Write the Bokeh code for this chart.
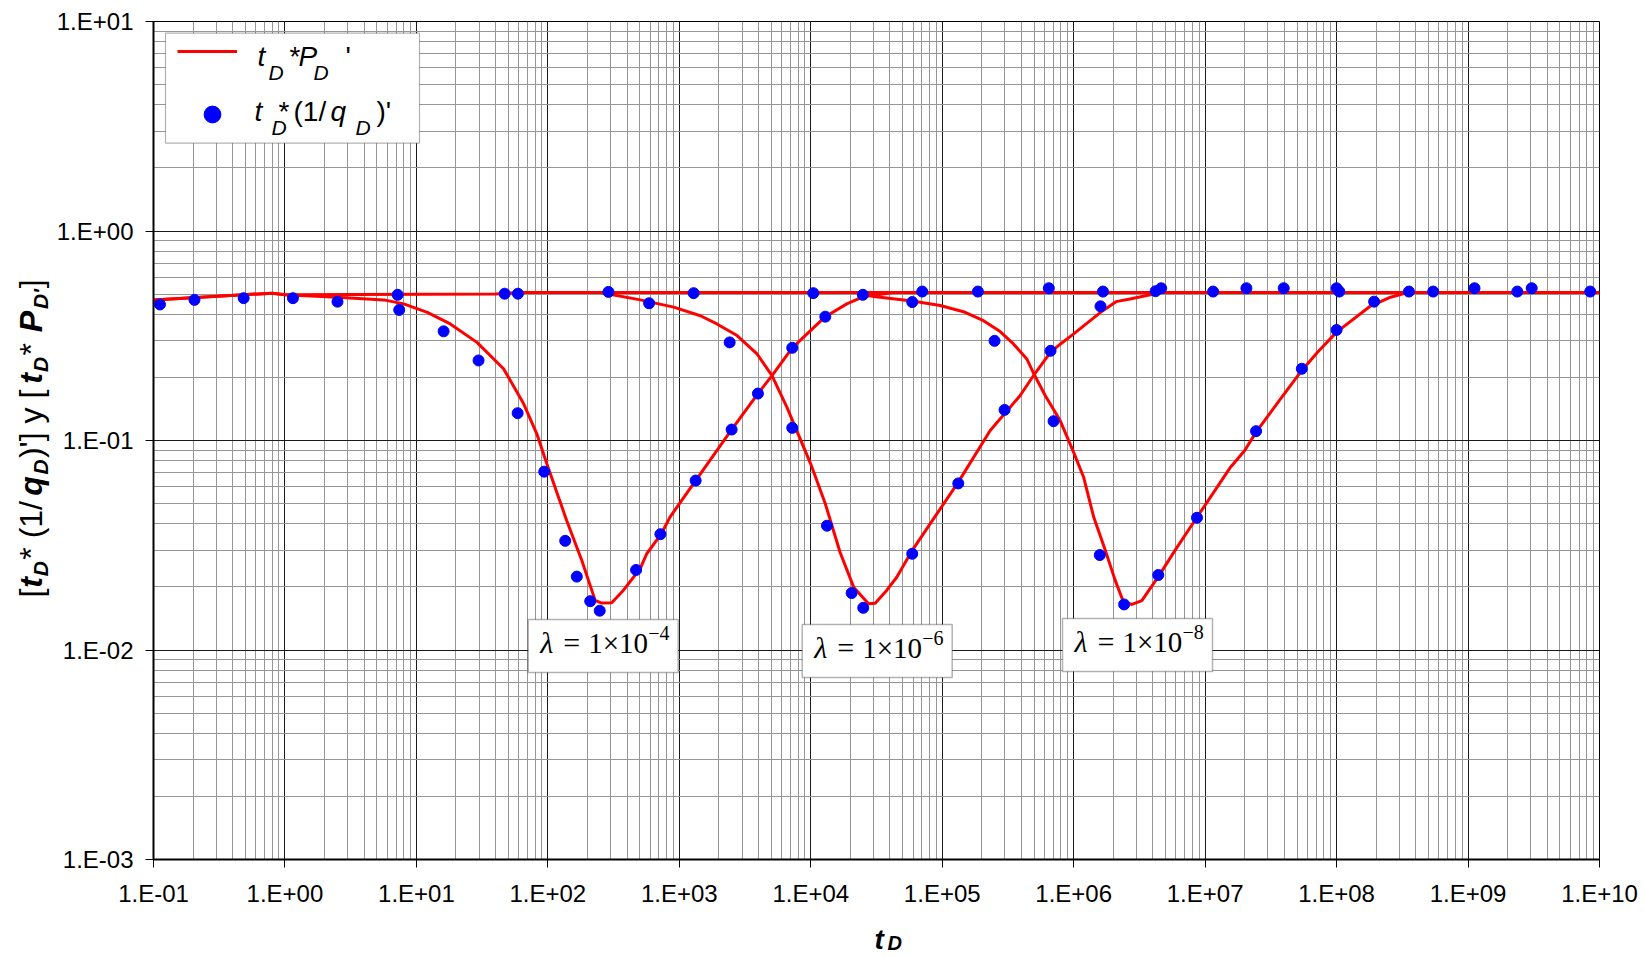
import math
from bokeh.plotting import figure
from bokeh.layouts import column, row
from bokeh.models import (FixedTicker, CustomJSTickFormatter, Label, BoxAnnotation,
                          Legend, LegendItem, Range1d)
from bokeh.embed import file_html
from bokeh.resources import INLINE

# ---------------- data ----------------
# homogeneous (flat) t_D*P_D'
flat_t = [0.1, 0.8, 1.0, 40, 60, 1e10]
flat_p = [0.469, 0.505, 0.496, 0.500, 0.509, 0.509]

# lambda = 1e-4
lam4_t = [0.1, 0.8, 1.0, 2.5, 5.65, 8.0, 12.1, 18.1, 28.9, 46, 65.3, 82.4, 98.2, 139, 181,
          229, 257, 306, 376, 505, 565, 727, 849, 1331, 2500, 3963, 5070, 7230, 12900,
          18800, 24900, 42700, 1e5]
lam4_p = [0.469, 0.505, 0.496, 0.483, 0.469, 0.449, 0.409, 0.360, 0.294, 0.220, 0.150, 0.1076,
          0.0774, 0.0415, 0.0268, 0.01725, 0.01675, 0.0168, 0.0193, 0.0245, 0.0288, 0.0357,
          0.0431, 0.0644, 0.1128, 0.1675, 0.204, 0.277, 0.390, 0.449, 0.485, 0.509, 0.509]

# lambda = 1e-6
lam6_t = [250, 505, 906, 1445, 1932, 2750, 3900, 5070, 6590, 9980, 12900, 16700, 21200,
          27500, 30900, 37900, 45200, 59150, 81100, 132500, 231700, 391700, 501000, 667000,
          794000, 1.0e6, 1.6e6, 2.1e6, 2.68e6, 4.63e6]
lam6_p = [0.509, 0.469, 0.433, 0.394, 0.360, 0.317, 0.259, 0.204, 0.144, 0.0774, 0.0499,
          0.0293, 0.01995, 0.01663, 0.0167, 0.0193, 0.0223, 0.0299, 0.0401, 0.0633, 0.1116,
          0.164, 0.2065, 0.264, 0.289, 0.323, 0.409, 0.460, 0.474, 0.509]

# lambda = 1e-8
lam8_t = [22400, 30060, 59150, 96600, 145000, 206000, 276000, 348000, 440000, 501000, 607000,
          789000, 998000, 1.19e6, 1.42e6, 1.74e6, 2.07e6, 2.39e6, 2.77e6, 3.30e6, 4.47e6,
          5.9e6, 8.67e6, 1.56e7, 2.0e7, 2.44e7, 3.66e7, 5.44e7, 7.16e7, 1.0e8, 1.78e8,
          2.57e8, 3.48e8, 1e10]
lam8_p = [0.509, 0.487, 0.463, 0.441, 0.412, 0.373, 0.331, 0.289, 0.245, 0.2065, 0.164,
          0.1245, 0.088, 0.0668, 0.0431, 0.0299, 0.0215, 0.01694, 0.0165, 0.0172, 0.0227,
          0.0299, 0.0430, 0.0746, 0.0896, 0.1096, 0.155, 0.216, 0.264, 0.329, 0.435,
          0.483, 0.509, 0.509]

# t_D*(1/q_D)' points
pts_t = [0.112, 0.205, 0.485, 1.15, 2.51, 7.2, 7.4, 16.1, 29.7, 46.9, 59.2, 58.9, 93.8,
         135.5, 166, 210, 248, 289, 589, 469, 718, 1331, 2500, 3963, 7230, 12900, 24900,
         1285, 2415, 10450, 7230, 13280, 20460, 25070, 59150, 59150, 70470, 132500, 186800,
         250000, 298000, 647000, 667000, 703000, 1.58e6, 1.6e6, 1.67e6, 2.42e6, 4.2e6,
         4.4e6, 4.63e6, 8.67e6, 1.15e7, 2.06e7, 2.44e7, 3.96e7, 5.44e7, 1.0e8, 1.0e8,
         1.05e8, 1.93e8, 3.55e8, 5.43e8, 1.12e9, 2.37e9, 3.05e9, 8.5e9]
pts_q = [0.446, 0.469, 0.478, 0.478, 0.460, 0.496, 0.420, 0.332, 0.241, 0.502, 0.502, 0.135,
         0.0710, 0.0332, 0.0224, 0.0171, 0.0154, 0.512, 0.452, 0.0241, 0.0357, 0.0644,
         0.1128, 0.1675, 0.277, 0.390, 0.496, 0.505, 0.294, 0.505, 0.1149, 0.0392, 0.0187,
         0.0159, 0.0288, 0.458, 0.514, 0.0624, 0.514, 0.299, 0.140, 0.533, 0.268, 0.1236,
         0.0284, 0.437, 0.514, 0.0165, 0.516, 0.0228, 0.533, 0.0428, 0.514, 0.533, 0.1108,
         0.533, 0.220, 0.337, 0.533, 0.514, 0.460, 0.514, 0.514, 0.533, 0.514, 0.533, 0.514]

x_ticks = [1e-1, 1e0, 1e1, 1e2, 1e3, 1e4, 1e5, 1e6, 1e7, 1e8, 1e9, 1e10]
x_tick_labels = ["1.E-01", "1.E+00", "1.E+01", "1.E+02", "1.E+03", "1.E+04", "1.E+05",
                 "1.E+06", "1.E+07", "1.E+08", "1.E+09", "1.E+10"]
y_ticks = [1e-3, 1e-2, 1e-1, 1e0, 1e1]
y_tick_labels = ["1.E-03", "1.E-02", "1.E-01", "1.E+00", "1.E+01"]
lambda_exps = ["\u22124", "\u22126", "\u22128"]

# ---------------- layout geometry (canvas pixels) ----------------
W, H = 1644, 956
YL_W = 52              # left strip holding the y title
MAIN_H = 910           # main figure height; bottom strip holds the x title
FL, FR, FT, FB = 153, 1599, 21, 859   # frame edges in canvas pixels
KB = 0.38              # empirical baseline correction (fraction of font size)

p = figure(width=W - YL_W, height=MAIN_H, x_axis_type="log", y_axis_type="log",
           x_range=(0.1, 1e10), y_range=(1e-3, 10), title=None,
           min_border_left=FL - YL_W, min_border_right=W - FR, min_border_top=FT,
           min_border_bottom=MAIN_H - FB, output_backend="svg", toolbar_location=None)
p.background_fill_color = "white"
p.border_fill_color = "white"
p.outline_line_color = "black"
p.outline_line_width = 1

x_minor = [m * 10.0 ** k for k in range(-1, 10) for m in range(2, 10)]
y_minor = [m * 10.0 ** k for k in range(-3, 1) for m in range(2, 10)]
p.xaxis.ticker = FixedTicker(ticks=x_ticks, minor_ticks=x_minor)
p.yaxis.ticker = FixedTicker(ticks=y_ticks, minor_ticks=y_minor)

fmt_code = """
let best = 0, bd = 1e99;
for (let i = 0; i < vals.length; i++) {
  const d = Math.abs(Math.log10(vals[i]) - Math.log10(tick));
  if (d < bd) { bd = d; best = i; }
}
return labs[best];
"""
p.xaxis.formatter = CustomJSTickFormatter(args=dict(vals=x_ticks, labs=x_tick_labels), code=fmt_code)
p.yaxis.formatter = CustomJSTickFormatter(args=dict(vals=y_ticks, labs=y_tick_labels), code=fmt_code)

for ax in (p.xaxis, p.yaxis):
    ax.major_label_text_font = "Liberation Sans"
    ax.major_label_text_font_size = "24px"
    ax.major_label_text_color = "black"
    ax.axis_line_color = "black"
    ax.axis_line_width = 2
    ax.major_tick_line_color = "black"
    ax.major_tick_out = 8
    ax.major_tick_in = 0
    ax.minor_tick_out = 0
    ax.minor_tick_in = 0
p.xaxis.major_label_standoff = 12
p.yaxis.major_label_standoff = 12

for g in (p.xgrid, p.ygrid):
    g.grid_line_color = "#1a1a1a"
    g.grid_line_width = 1
    g.minor_grid_line_color = "#969696"
    g.minor_grid_line_width = 1

# ---------------- data marks ----------------
r_lines = p.multi_line(xs=[flat_t, lam4_t, lam6_t, lam8_t],
                       ys=[flat_p, lam4_p, lam6_p, lam8_p],
                       line_color="#FF0000", line_width=3)
r_pts = p.scatter(x=pts_t, y=pts_q, size=11, fill_color="#0000FF", line_color="#0000FF")


# ---------------- helpers for placed text ----------------
def make_lab(fig, X, Y, text, size, style="normal", font="Liberation Sans", angle=0.0):
    fig.add_layout(Label(x=X, y=Y, x_units="screen", y_units="screen", text=text,
                         text_font=font, text_font_size=f"{size}px", text_font_style=style,
                         text_color="black", angle=angle, text_align="left",
                         text_baseline="alphabetic"))


def lab(text, X, Y, size, style="normal", font="Liberation Sans"):
    # canvas coords (baseline) -> main frame coords (origin at frame bottom-left, y upward)
    make_lab(p, X - FL, FB - Y + KB * size, text, size, style, font)


def box(L, T, R, B, lw=1.5, color="black"):
    p.add_layout(BoxAnnotation(left=L - FL, right=R - FL, top=FB - T, bottom=FB - B,
                               left_units="screen", right_units="screen",
                               top_units="screen", bottom_units="screen",
                               fill_color="white", fill_alpha=1.0,
                               line_color=color, line_width=lw, level="annotation"))


# ---------------- legend ----------------
box(165, 32.7, 419, 142.7, lw=1.2, color="black")
leg1 = Legend(items=[LegendItem(label=" ", renderers=[r_lines])], location=(177 - FL, FB - 61),
              glyph_width=60, glyph_height=20, padding=0, margin=0, spacing=0,
              border_line_alpha=0, background_fill_alpha=0, label_standoff=0,
              label_text_font_size="1px", label_width=0, label_height=0)
leg2 = Legend(items=[LegendItem(label=" ", renderers=[r_pts])], location=(191 - FL, FB - 135),
              glyph_width=42, glyph_height=42, padding=0, margin=0, spacing=0,
              border_line_alpha=0, background_fill_alpha=0, label_standoff=0,
              label_text_font_size="1px", label_width=0, label_height=0)
p.add_layout(leg1)
p.add_layout(leg2)

lab("t", 257, 66.7, 28, "italic")
lab("D", 268, 80, 21, "italic")
lab("*", 289, 66.7, 28)
lab("P", 298, 66.7, 28, "italic")
lab("D", 313, 80, 21, "italic")
lab("'", 345, 66.7, 28)

lab("t", 254, 121.7, 28, "italic")
lab("D", 271, 135, 21, "italic")
lab("*", 278, 121.7, 28)
lab("(1/", 293, 121.7, 28)
lab("q", 330, 121.7, 28, "italic")
lab("D", 355, 135, 21, "italic")
lab(")'", 376, 121.7, 28)

# ---------------- lambda boxes ----------------
boxes = [(527.7, 619), (801.7, 624), (1062, 618)]
for (L, T), e in zip(boxes, lambda_exps):
    box(L, T, L + 150, T + 53, lw=1.5, color="black")
    lab("\u03bb", L + 12, T + 34.5, 30, "italic", font="Liberation Serif")
    lab("=", L + 35, T + 34.5, 30, font="Liberation Serif")
    lab("1\u00d710", L + 60, T + 34.5, 29, font="Liberation Serif")
    lab(e, L + 120, T + 21, 20, font="Liberation Serif")


# ---------------- side strips for axis titles ----------------
def strip(w, h, top, bottom):
    f = figure(width=w, height=h, x_range=Range1d(0, 1), y_range=Range1d(0, 1), title=None,
               x_axis_location=None, y_axis_location=None,
               min_border_left=0, min_border_right=0, min_border_top=top,
               min_border_bottom=bottom, output_backend="svg", toolbar_location=None)
    f.grid.visible = False
    f.outline_line_color = None
    f.background_fill_color = "white"
    f.border_fill_color = "white"
    return f


# y strip: frame spans canvas x 0..YL_W and y FT..FB (aligned with the main frame)
yfig = strip(YL_W, MAIN_H, FT, MAIN_H - FB)
# x strip: frame spans canvas y MAIN_H..H
xfig = strip(W, H - MAIN_H, 0, 0)

# x title: t_D
make_lab(xfig, 874, H - 950 + KB * 28, "t", 28, "bold italic")
make_lab(xfig, 887, H - 950 + KB * 20, "D", 20, "bold italic")

# y title: [t_D* (1/q_D)'] y [t_D* P_D']
em = {"[": 0.278, "]": 0.278, "*": 0.389, " ": 0.278, "(": 0.333, ")": 0.333, "1": 0.556,
      "/": 0.278, "'": 0.191, "y": 0.5, "t": 0.333, "q": 0.611, "P": 0.667, "D": 0.722}
ylab = [("[", 32, "normal", 0), ("t", 32, "bold italic", 0), ("D", 21, "bold italic", 5),
        ("* (1/", 32, "normal", 0), ("q", 32, "bold italic", 0), ("D", 21, "bold italic", 5),
        (")'] y [", 32, "normal", 0), ("t", 32, "bold italic", 0), ("D", 21, "bold italic", 5),
        ("* ", 32, "normal", 0), ("P", 32, "bold italic", 0), ("D'", 21, "bold italic", 5),
        ("]", 32, "normal", 0)]
widths = [sum(em[c] for c in t) * s for t, s, _, _ in ylab]
Y0, Y1 = 597, 278
scale = (Y0 - Y1) / sum(widths)
ycur = Y0
for (t, s, st, sh), w in zip(ylab, widths):
    make_lab(yfig, 43 + sh - KB * s, FB - ycur, t, s, st, angle=math.pi / 2)
    ycur -= w * scale

layout = column(row(yfig, p, spacing=0), xfig, spacing=0)
open("out.html", "w").write(file_html(layout, INLINE))
